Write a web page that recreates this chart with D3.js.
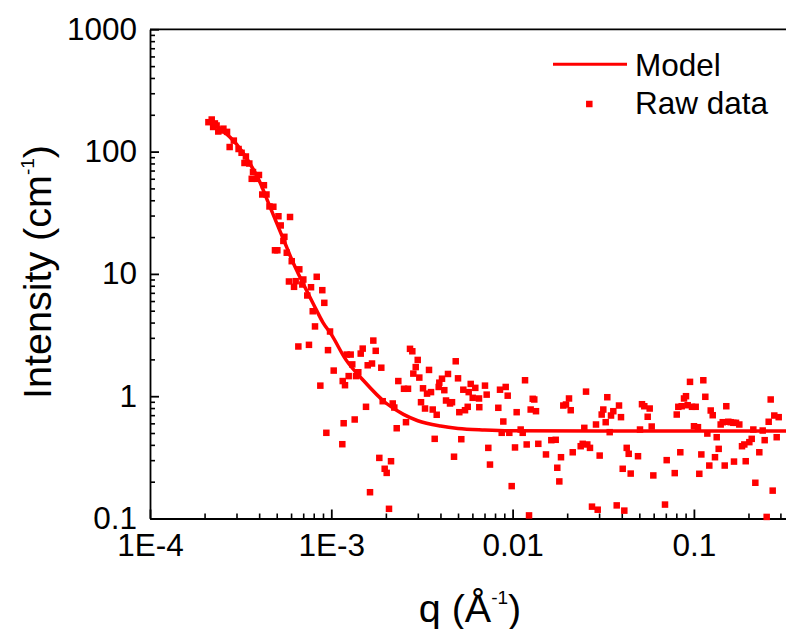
<!DOCTYPE html>
<html>
<head>
<meta charset="utf-8">
<script src="https://cdn.jsdelivr.net/npm/d3@7"></script>
<style>
  body { margin: 0; background: #fff; }
  svg { display: block; font-family: "Liberation Sans", Arial, sans-serif; }
</style>
</head>
<body>
<svg id="chart" width="786" height="629"></svg>
<script>

// raw data, q in 1/A and intensity in 1/cm
var rawQ = [
  2.10e-4, 2.19e-4, 2.23e-4, 2.28e-4, 2.33e-4, 2.38e-4, 2.46e-4, 2.54e-4, 2.66e-4, 2.75e-4,
  2.90e-4, 3.08e-4, 3.20e-4, 3.38e-4, 3.32e-4, 3.53e-4, 3.70e-4, 3.99e-4, 3.64e-4, 3.88e-4,
  4.25e-4, 4.16e-4, 4.39e-4, 4.56e-4, 4.79e-4, 5.11e-4, 5.92e-4, 5.26e-4, 5.51e-4, 5.44e-4,
  4.89e-4, 5.04e-4,
  5.68e-4, 6.05e-4, 6.66e-4, 8.31e-4, 5.84e-4, 6.36e-4, 7.01e-4, 6.23e-4, 6.92e-4, 7.73e-4,
  8.92e-4, 7.37e-4, 9.15e-4, 7.90e-4, 8.13e-4, 9.84e-4, 6.58e-4, 7.53e-4, 9.59e-4, 1.216e-3,
  1.279e-3, 1.490e-3, 1.453e-3, 1.705e-3, 1.758e-3, 1.305e-3, 1.588e-3, 1.677e-3, 1.887e-3, 1.031e-3,
  1.247e-3, 1.409e-3, 1.369e-3, 1.156e-3, 1.190e-3, 8.70e-4, 2.342e-3, 2.518e-3, 2.649e-3, 2.717e-3,
  2.798e-3, 2.997e-3, 2.922e-3, 2.834e-3, 3.058e-3, 3.459e-3, 3.205e-3, 3.373e-3, 3.548e-3, 3.125e-3,
  3.288e-3, 3.626e-3, 3.814e-3, 4.080e-3, 3.942e-3, 4.201e-3, 3.912e-3, 4.402e-3, 4.856e-3, 5.000e-3,
  4.293e-3, 4.516e-3, 4.632e-3, 5.348e-3, 5.874e-3, 5.727e-3, 6.226e-3, 6.025e-3, 6.527e-3, 5.655e-3,
  5.464e-3, 5.082e-3, 6.551e-3, 1.554e-3, 1.921e-3, 2.182e-3, 2.226e-3, 2.582e-3, 2.295e-3, 1.346e-3,
  1.170e-3, 9.39e-4, 1.150e-3, 3.718e-3, 5.212e-3, 4.752e-3, 1.840e-3, 2.135e-3, 1.970e-3, 2.021e-3,
  1.635e-3, 2.081e-3,
  7.042e-3, 7.195e-3, 7.345e-3, 7.503e-3, 8.340e-3, 8.522e-3, 8.887e-3, 9.162e-3, 9.397e-3, 8.709e-3,
  9.590e-3, 9.886e-3, 1.031e-2, 1.053e-2, 1.108e-2, 1.137e-2, 1.171e-2, 1.196e-2, 1.232e-2, 1.258e-2,
  1.291e-2, 1.317e-2, 1.346e-2, 1.386e-2, 1.528e-2, 1.635e-2, 1.729e-2, 1.764e-2, 1.810e-2, 1.849e-2,
  1.904e-2, 1.970e-2, 2.047e-2, 2.092e-2, 2.146e-2, 2.375e-2, 2.436e-2, 2.486e-2, 2.541e-2, 2.582e-2,
  2.672e-2, 2.741e-2, 2.884e-2, 2.947e-2, 3.022e-2, 3.100e-2, 3.164e-2, 3.262e-2, 3.329e-2, 3.432e-2,
  3.490e-2, 3.593e-2, 3.752e-2, 3.863e-2, 3.962e-2, 4.049e-2, 4.132e-2, 4.260e-2, 4.369e-2, 4.481e-2,
  4.917e-2, 5.043e-2, 5.172e-2, 5.326e-2, 5.561e-2, 5.704e-2, 5.851e-2, 5.972e-2, 6.928e-2, 7.079e-2,
  7.840e-2, 8.041e-2, 8.204e-2, 8.414e-2, 8.565e-2, 8.819e-2, 9.045e-2, 9.243e-2, 9.517e-2, 9.761e-2,
  0.1001, 0.1023, 0.1053, 0.1071, 0.1099, 0.1127, 0.1156, 0.1186, 0.1216, 0.1238,
  0.1270, 0.1307, 0.1336, 0.1370, 0.1405, 0.1442, 0.1479, 0.1509, 0.1548, 0.1596,
  0.1650, 0.1707, 0.1780, 0.1664, 0.1842, 0.1897, 0.1931, 0.2022, 0.2084, 0.2127,
  0.2182, 0.2295, 0.2396, 0.2457, 0.2520, 0.2585, 0.2652, 0.2720, 0.2776, 0.2862,
  0.2936
]
var rawI = [
  174, 183, 159, 170, 163.5, 146, 148.8, 154, 145, 109,
  123, 105, 97.8, 91.2, 80.7, 79.9, 68.1, 64.4, 59.9, 59.9,
  53.1, 44.6, 44.6, 35.6, 35.4, 29.6, 29.2, 24.9, 20.1, 18.6,
  15.6, 15.6,
  14.9, 12.7, 10.9, 9.47, 8.67, 8.72, 9.00, 7.84, 8.19, 7.78,
  7.36, 6.66, 5.80, 4.95, 3.72, 3.38, 2.55, 2.63, 2.38, 2.19,
  2.19, 2.45, 2.23, 2.85, 2.35, 1.82, 1.79, 1.85, 1.71, 1.62,
  1.46, 1.57, 1.46, 1.33, 1.23, 1.22, 1.33, 1.15, 1.15, 2.44,
  2.33, 1.98, 1.73, 1.53, 1.42, 1.64, 1.16, 1.05, 1.08, 0.893,
  0.793, 0.778, 0.705, 1.39, 1.29, 1.12, 1.19, 1.52, 1.93, 1.40,
  0.922, 0.872, 0.893, 1.13, 1.26, 1.08, 1.17, 0.970, 0.958, 0.819,
  0.768, 0.740, 0.813, 0.819, 0.910, 0.872, 0.808, 0.613, 0.547, 0.645,
  0.601, 0.502, 0.405, 0.448, 0.445, 0.320, 0.313, 0.294, 0.255, 0.236,
  0.164, 0.120,
  1.22, 1.03, 0.378, 0.276, 0.804, 1.13, 0.621, 1.19, 1.01, 0.502,
  0.502, 0.184, 0.381, 0.740, 0.534, 0.502, 1.35, 0.403, 0.106, 0.778,
  0.952, 0.940, 0.754, 0.408, 0.334, 0.437, 0.440, 0.260, 0.201, 0.317,
  0.839, 0.855, 0.958, 0.768, 0.348, 0.390, 0.408, 0.551, 1.09, 0.403,
  0.378, 0.125, 0.587, 0.118, 0.327, 0.708, 0.778, 0.613, 0.981, 0.508,
  0.695, 0.754, 0.128, 0.839, 0.674, 0.255, 0.116, 0.378, 0.338, 0.233,
  0.323, 0.534, 0.860, 0.828, 0.679, 0.793, 0.565, 0.225, 0.130, 0.300,
  0.235, 0.708, 0.819, 0.348, 0.828, 0.958, 1.00, 0.844, 1.31, 0.819,
  0.568, 0.819, 0.558, 0.232, 0.334, 1.35, 0.989, 0.495, 0.271, 0.764,
  0.699, 0.317, 0.462, 0.371, 0.587, 0.613, 0.271, 0.828, 0.618, 0.613,
  0.606, 0.606, 0.587, 0.292, 0.390, 0.403, 0.294, 0.421, 0.448, 0.534,
  0.196, 0.348, 0.524, 0.437, 0.103, 0.618, 0.940, 0.169, 0.695, 0.462,
  0.674
]

// fitted model curve
var modelQ = [2.1e-4, 2.5e-4, 3e-4, 3.5e-4, 4e-4, 4.5e-4, 5e-4, 5.5e-4, 6e-4, 6.5e-4,
              7e-4, 8e-4, 9e-4, 1e-3, 1.2e-3, 1.5e-3, 2e-3, 2.5e-3, 3e-3, 4e-3,
              5e-3, 7e-3, 1e-2, 3e-2, 0.1, 0.35]
var modelI = [178, 150, 115, 83, 58, 38, 26, 18.5, 13.5, 10.4,
              8.3, 5.6, 4.0, 3.2, 2.0, 1.35, 0.88, 0.71, 0.63, 0.57,
              0.545, 0.53, 0.522, 0.52, 0.52, 0.52]

var xTicks = [1e-4, 1e-3, 1e-2, 1e-1]
var xTickLabels = ["1E-4", "1E-3", "0.01", "0.1"]
var yTicks = [0.1, 1, 10, 100, 1000]
var yTickLabels = ["0.1", "1", "10", "100", "1000"]

var svg = d3.select("#chart"),
    plotLeft = 150, plotTop = 29.3,
    decX = 181.3, decY = 122.3,
    red = "#ff0000";

var x = d3.scaleLog().domain([1e-4, 1]).range([plotLeft, plotLeft + 4 * decX])
var y = d3.scaleLog().domain([0.1, 1000]).range([plotTop + 4 * decY, plotTop])

var minorX = [], minorY = []
xTicks.forEach(d => { for (var k = 2; k < 10; k++) minorX.push(d * k) })
yTicks.slice(0, 4).forEach(d => { for (var k = 2; k < 10; k++) minorY.push(d * k) })

// minor ticks
svg.append("g")
    .attr("transform", `translate(0,${y(0.1)})`)
    .attr("stroke-width", 1.6)
    .call(d3.axisBottom(x).tickValues(minorX).tickSize(-5).tickFormat(""))
    .call(g => g.select(".domain").remove())

svg.append("g")
    .attr("transform", `translate(${plotLeft},0)`)
    .attr("stroke-width", 1.6)
    .call(d3.axisLeft(y).tickValues(minorY).tickSize(-5).tickFormat(""))
    .call(g => g.select(".domain").remove())

// major axes
svg.append("g")
    .attr("transform", `translate(0,${y(0.1)})`)
    .attr("stroke-width", 1.8)
    .call(d3.axisBottom(x).tickValues(xTicks).tickSizeInner(-9).tickSizeOuter(0).tickPadding(15)
        .tickFormat((d, i) => xTickLabels[i]))
    .attr("font-size", 31.5)
    .attr("font-family", "Liberation Sans, Arial, sans-serif")

svg.append("g")
    .attr("transform", `translate(${plotLeft},0)`)
    .attr("stroke-width", 1.8)
    .call(d3.axisLeft(y).tickValues(yTicks).tickSizeInner(-9).tickSizeOuter(0).tickPadding(13)
        .tickFormat((d, i) => yTickLabels[i]))
    .attr("font-size", 31.5)
    .attr("font-family", "Liberation Sans, Arial, sans-serif")

svg.append("line")
    .attr("x1", x(1e-4)).attr("x2", x(1))
    .attr("y1", y(1000)).attr("y2", y(1000))
    .attr("stroke", "#000").attr("stroke-width", 1.8)

// model line
var line = d3.line()
    .x((d, i) => x(modelQ[i]))
    .y((d, i) => y(modelI[i]))
    .curve(d3.curveMonotoneX)

svg.append("path")
    .attr("d", line(modelQ))
    .attr("fill", "none")
    .attr("stroke", red)
    .attr("stroke-width", 3.5)

// raw data squares
var s = 6.5
svg.append("g").selectAll("rect")
    .data(rawQ)
    .enter().append("rect")
    .attr("x", (d, i) => x(d) - s / 2)
    .attr("y", (d, i) => y(rawI[i]) - s / 2)
    .attr("width", s)
    .attr("height", s)
    .attr("fill", red)

// axis titles
var yt = svg.append("text")
    .attr("transform", "translate(51,272) rotate(-90)")
    .attr("text-anchor", "middle")
    .style("font-size", "39.5px")
yt.append("tspan").text("Intensity (cm")
yt.append("tspan").attr("dy", -17).style("font-size", "19px").text("-1")
yt.append("tspan").attr("dy", 17).text(")")

var xt = svg.append("text")
    .attr("x", 470).attr("y", 622)
    .attr("text-anchor", "middle")
    .style("font-size", "39.5px")
xt.append("tspan").text("q (Å")
xt.append("tspan").attr("dy", -18).style("font-size", "19px").text("-1")
xt.append("tspan").attr("dy", 18).text(")")

// legend
svg.append("line").attr("x1", 553).attr("x2", 627).attr("y1", 64.3).attr("y2", 64.3)
    .attr("stroke", red).attr("stroke-width", 3)
svg.append("rect").attr("x", 589.3 - s / 2).attr("y", 104 - s / 2).attr("width", s).attr("height", s)
    .attr("fill", red)
svg.append("text").attr("x", 635).attr("y", 76).text("Model").style("font-size", "31.5px")
svg.append("text").attr("x", 635).attr("y", 114.3).text("Raw data").style("font-size", "31.5px")

</script>
</body>
</html>
